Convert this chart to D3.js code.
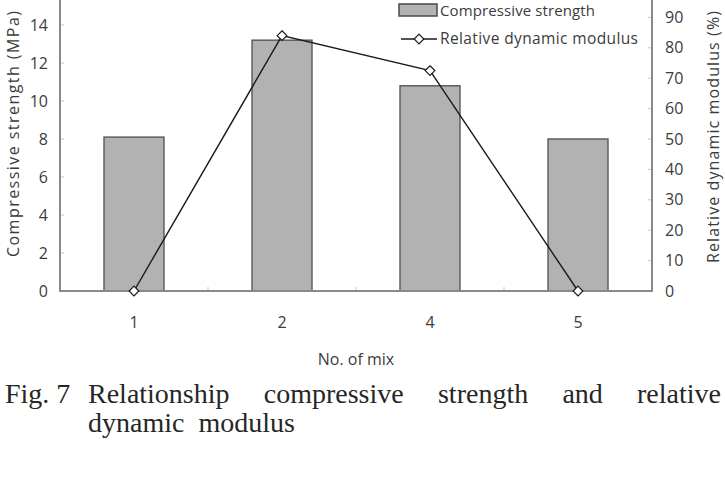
<!DOCTYPE html>
<html>
<head>
<meta charset="utf-8">
<script src="https://cdn.jsdelivr.net/npm/d3@7"></script>
<style>
  body { margin: 0; background: #fff; }
  svg { display: block; }
</style>
</head>
<body>
<div id="chart"></div>
<script>
// chart values
const mixes = ["1", "2", "4", "5"];
const strength = [8.1, 13.2, 10.8, 8.0];     // MPa
const modulus = [0, 84, 72.5, 0];            // %
const leftTicks = [0, 2, 4, 6, 8, 10, 12, 14, 16];
const rightTicks = [0, 10, 20, 30, 40, 50, 60, 70, 80, 90, 100];
const captionLabel = "Fig. 7";
const captionLine1 = ["Relationship", "compressive", "strength", "and", "relative"];
const captionLine2 = "dynamic  modulus";

const width = 725, height = 487;
const margin = {left: 60, right: 652, top: -13, bottom: 291};
const labelFont = "'Open Sans', 'Noto Sans', sans-serif";
const labelColor = "#3c3c3c";

const svg = d3.select("#chart").append("svg")
    .attr("width", width)
    .attr("height", height);

svg.append("rect").attr("width", width).attr("height", height).attr("fill", "#fff");

const x = d3.scaleBand()
    .domain(mixes)
    .range([margin.left, margin.right])
    .paddingInner(0.595)
    .paddingOuter(0.2975);

const yLeft = d3.scaleLinear().domain([0, 16]).range([margin.bottom, margin.top]);
const yRight = d3.scaleLinear().domain([0, 100]).range([margin.bottom, margin.top]);

// inward tick marks
const tickCol = "#c8c8c8";
svg.append("g")
    .selectAll("line")
    .data(leftTicks.slice(1))
    .join("line")
    .attr("x1", margin.left).attr("x2", margin.left + 4)
    .attr("y1", d => yLeft(d)).attr("y2", d => yLeft(d))
    .attr("stroke", tickCol);

svg.append("g")
    .selectAll("line")
    .data(rightTicks.slice(1))
    .join("line")
    .attr("x1", margin.right - 4).attr("x2", margin.right)
    .attr("y1", d => yRight(d)).attr("y2", d => yRight(d))
    .attr("stroke", tickCol);

// category boundary ticks on the x axis
const step = x.step();
svg.append("g")
    .selectAll("line")
    .data(mixes.slice(1))
    .join("line")
    .attr("x1", d => x(d) + x.bandwidth() / 2 - step / 2)
    .attr("x2", d => x(d) + x.bandwidth() / 2 - step / 2)
    .attr("y1", margin.bottom).attr("y2", margin.bottom - 4)
    .attr("stroke", tickCol);

// bars
svg.append("g")
    .selectAll("rect")
    .data(mixes)
    .join("rect")
    .attr("x", d => x(d))
    .attr("width", x.bandwidth())
    .attr("y", (d, i) => yLeft(strength[i]))
    .attr("height", (d, i) => yLeft(0) - yLeft(strength[i]))
    .attr("fill", "#b2b2b2")
    .attr("stroke", "#5e5e5e")
    .attr("stroke-width", 1.5);

// axis frame
const axisCol = "#8a8a8a";
svg.append("line")
    .attr("x1", margin.left).attr("x2", margin.left)
    .attr("y1", margin.top).attr("y2", margin.bottom)
    .attr("stroke", axisCol).attr("stroke-width", 2);
svg.append("line")
    .attr("x1", margin.right).attr("x2", margin.right)
    .attr("y1", margin.top).attr("y2", margin.bottom)
    .attr("stroke", axisCol).attr("stroke-width", 2);
svg.append("line")
    .attr("x1", margin.left - 1).attr("x2", margin.right + 1)
    .attr("y1", margin.bottom).attr("y2", margin.bottom)
    .attr("stroke", axisCol).attr("stroke-width", 2);

// modulus line
const pts = mixes.map((m, i) => [x(m) + x.bandwidth() / 2, yRight(modulus[i])]);
svg.append("path")
    .datum(pts)
    .attr("d", d3.line())
    .attr("fill", "none")
    .attr("stroke", "#1a1a1a")
    .attr("stroke-width", 1.4);

const diamond = d3.symbol().type(d3.symbolDiamond2).size(60);
svg.append("g")
    .selectAll("path")
    .data(pts)
    .join("path")
    .attr("transform", d => `translate(${d[0]},${d[1]})`)
    .attr("d", diamond)
    .attr("fill", "#fff")
    .attr("stroke", "#1a1a1a")
    .attr("stroke-width", 1.2);

// tick labels
svg.append("g")
    .selectAll("text")
    .data(leftTicks.filter(d => yLeft(d) > 10))
    .join("text")
    .attr("x", 48).attr("y", d => yLeft(d))
    .attr("dy", "0.35em")
    .attr("text-anchor", "end")
    .attr("font-family", labelFont).attr("font-size", 16)
    .attr("fill", labelColor)
    .text(d => d);

svg.append("g")
    .selectAll("text")
    .data(rightTicks.filter(d => yRight(d) > 10))
    .join("text")
    .attr("x", 665).attr("y", d => yRight(d))
    .attr("dy", "0.35em")
    .attr("text-anchor", "start")
    .attr("font-family", labelFont).attr("font-size", 16)
    .attr("fill", labelColor)
    .text(d => d);

svg.append("g")
    .selectAll("text")
    .data(mixes)
    .join("text")
    .attr("x", d => x(d) + x.bandwidth() / 2)
    .attr("y", 322)
    .attr("dy", "0.35em")
    .attr("text-anchor", "middle")
    .attr("font-family", labelFont).attr("font-size", 16)
    .attr("fill", labelColor)
    .text(d => d);

// axis titles
svg.append("text")
    .attr("transform", "translate(13,134) rotate(-90)")
    .attr("dy", "0.35em")
    .attr("text-anchor", "middle")
    .attr("font-family", labelFont).attr("font-size", 16)
    .attr("textLength", 246).attr("lengthAdjust", "spacing")
    .attr("fill", labelColor)
    .text("Compressive strength (MPa)");

svg.append("text")
    .attr("transform", "translate(713,137) rotate(-90)")
    .attr("dy", "0.35em")
    .attr("text-anchor", "middle")
    .attr("font-family", labelFont).attr("font-size", 16)
    .attr("textLength", 252).attr("lengthAdjust", "spacing")
    .attr("fill", labelColor)
    .text("Relative dynamic modulus (%)");

svg.append("text")
    .attr("x", (margin.left + margin.right) / 2)
    .attr("y", 359)
    .attr("dy", "0.35em")
    .attr("text-anchor", "middle")
    .attr("font-family", labelFont).attr("font-size", 16)
    .attr("fill", labelColor)
    .text("No. of mix");

// legend
const legend = svg.append("g");
legend.append("rect")
    .attr("x", 399).attr("y", 4).attr("width", 38).attr("height", 12)
    .attr("fill", "#b2b2b2").attr("stroke", "#4a4a4a").attr("stroke-width", 1.5);
legend.append("text")
    .attr("x", 440).attr("y", 16.3)
    .attr("font-family", labelFont).attr("font-size", 15)
    .attr("textLength", 155).attr("lengthAdjust", "spacing")
    .attr("fill", labelColor)
    .text("Compressive strength");
legend.append("line")
    .attr("x1", 401).attr("x2", 437).attr("y1", 39).attr("y2", 39)
    .attr("stroke", "#1a1a1a").attr("stroke-width", 1.4);
legend.append("path")
    .attr("transform", "translate(419,39)")
    .attr("d", diamond)
    .attr("fill", "#fff").attr("stroke", "#1a1a1a").attr("stroke-width", 1.2);
legend.append("text")
    .attr("x", 440).attr("y", 39).attr("dy", "0.35em")
    .attr("font-family", labelFont).attr("font-size", 15.5)
    .attr("textLength", 198).attr("lengthAdjust", "spacing")
    .attr("fill", labelColor)
    .text("Relative dynamic modulus");

// caption: label then justified text on the first line
const capFont = "'Liberation Serif', 'DejaVu Serif', serif";
const capLeft = 88, capRight = 721;
svg.append("text")
    .attr("x", 5).attr("y", 403)
    .attr("font-family", capFont).attr("font-size", 28)
    .attr("fill", "#262626")
    .attr("xml:space", "preserve")
    .style("white-space", "pre")
    .text(captionLabel);
const capWords = svg.append("g")
    .selectAll("text")
    .data(captionLine1)
    .join("text")
    .attr("y", 403)
    .attr("font-family", capFont).attr("font-size", 28)
    .attr("fill", "#262626")
    .text(d => d);
const widths = capWords.nodes().map(n => n.getComputedTextLength());
const total = d3.sum(widths);
const gap = (capRight - capLeft - total) / (captionLine1.length - 1);
let cx = capLeft;
capWords.attr("x", (d, i) => {
    const pos = cx;
    cx += widths[i] + gap;
    return pos;
});
svg.append("text")
    .attr("x", capLeft).attr("y", 432)
    .attr("font-family", capFont).attr("font-size", 28)
    .attr("fill", "#262626")
    .attr("xml:space", "preserve")
    .style("white-space", "pre")
    .text(captionLine2);
</script>
</body>
</html>
